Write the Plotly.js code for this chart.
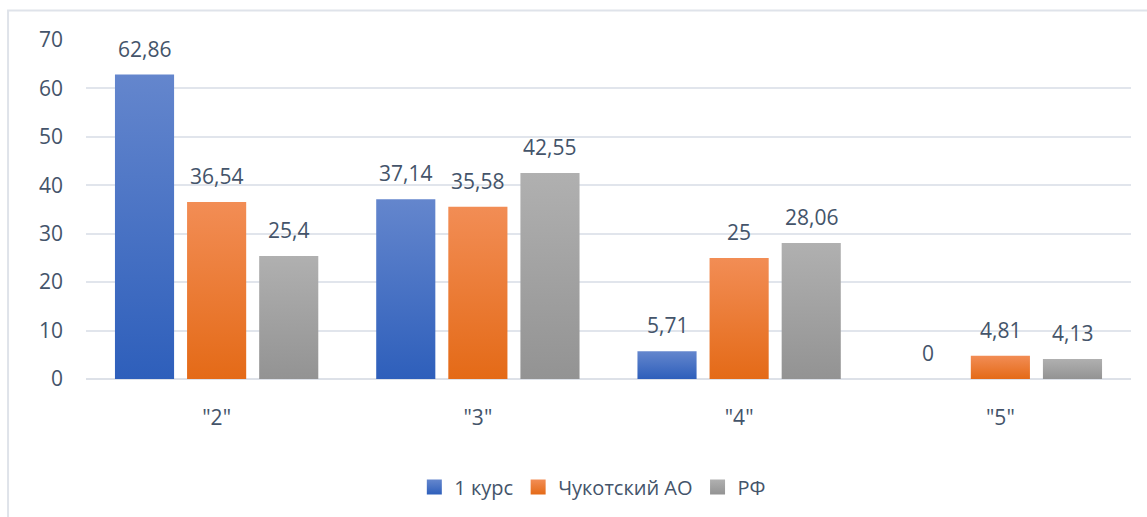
<!DOCTYPE html>
<html>
<head>
<meta charset="utf-8">
<script src="https://cdn.plot.ly/plotly-3.0.1.min.js"></script>
<style>
html,body{margin:0;padding:0;background:#fff;}
#chart{width:1147px;height:517px;}
</style>
</head>
<body>
<div id="chart"></div>
<script>
var categories = ['"2"', '"3"', '"4"', '"5"'];
var seriesNames = ['1 курс', 'Чукотский АО', 'РФ'];
var kurs1 = [62.86, 37.14, 5.71, 0];
var chukotka = [36.54, 35.58, 25, 4.81];
var rf = [25.4, 42.55, 28.06, 4.13];
var yTicks = [0, 10, 20, 30, 40, 50, 60, 70];

var seriesValues = [kurs1, chukotka, rf];
var colors = ['#4472c4', '#f07b2c', '#a5a5a5'];
var gradTop = ['#6486cd', '#f28d55', '#b0b0b0'];
var gradBottom = ['#2e5fbb', '#e46a17', '#939393'];
var textColor = '#44546a';
var font = 'Open Sans, Noto Sans, sans-serif';

function fmt(v) { return String(v).replace('.', ','); }

var traces = seriesValues.map(function (vals, i) {
  return {
    type: 'bar',
    name: seriesNames[i],
    x: categories,
    y: vals,
    marker: { color: colors[i], line: { width: 0 } },
    hoverinfo: 'none'
  };
});

var slotPx = 72;
var annotations = [];
seriesValues.forEach(function (vals, i) {
  vals.forEach(function (v, j) {
    annotations.push({
      x: categories[j], y: v, xref: 'x', yref: 'y',
      text: fmt(v), showarrow: false,
      xshift: (i - 1) * slotPx, yshift: 10,
      yanchor: 'bottom', xanchor: 'center',
      font: { family: font, size: 21, color: textColor }
    });
  });
});

var layout = {
  width: 1147, height: 517,
  margin: { l: 86, r: 16, t: 40, b: 137 },
  paper_bgcolor: '#ffffff', plot_bgcolor: '#ffffff',
  barmode: 'group', bargap: 0.172, bargroupgap: 0.18,
  showlegend: true,
  legend: {
    orientation: 'h', x: 0.485, xanchor: 'center', y: -0.315, yanchor: 'middle',
    font: { family: font, size: 20, color: textColor },
    itemwidth: 30, traceorder: 'normal'
  },
  xaxis: {
    type: 'category', tickfont: { family: font, size: 21, color: textColor },
    showgrid: false, zeroline: false, showline: false, ticks: '',
    ticklabelstandoff: 24
  },
  yaxis: {
    range: [0, 70], tickvals: yTicks, ticktext: yTicks.map(String),
    tickfont: { family: font, size: 21, color: textColor },
    showgrid: true, gridcolor: '#e1e5ec', gridwidth: 2,
    zeroline: true, zerolinecolor: '#dde1e8', zerolinewidth: 2,
    showline: false, ticks: '', ticklabelstandoff: 22
  },
  annotations: annotations,
  shapes: [{
    type: 'rect', xref: 'paper', yref: 'paper',
    x0: -0.0746, x1: 1.2, y0: -0.6, y1: 1.087,
    line: { color: '#dfe3ea', width: 2 }, fillcolor: 'rgba(0,0,0,0)', layer: 'below'
  }]
};

Plotly.newPlot('chart', traces, layout, { displayModeBar: false, staticPlot: true }).then(function (gd) {
  var svg = gd.querySelector('svg.main-svg');
  var ns = 'http://www.w3.org/2000/svg';
  var defs = document.createElementNS(ns, 'defs');
  colors.forEach(function (c, i) {
    var lg = document.createElementNS(ns, 'linearGradient');
    lg.setAttribute('id', 'barGrad' + i);
    lg.setAttribute('x1', '0'); lg.setAttribute('y1', '0');
    lg.setAttribute('x2', '0'); lg.setAttribute('y2', '1');
    [[0, gradTop[i]], [1, gradBottom[i]]].forEach(function (s) {
      var st = document.createElementNS(ns, 'stop');
      st.setAttribute('offset', s[0]);
      st.setAttribute('stop-color', s[1]);
      lg.appendChild(st);
    });
    defs.appendChild(lg);
  });
  svg.insertBefore(defs, svg.firstChild);
  var traceGroups = gd.querySelectorAll('.barlayer .trace');
  traceGroups.forEach(function (g, i) {
    g.querySelectorAll('path').forEach(function (p) {
      p.style.fill = 'url(#barGrad' + i + ')';
    });
  });
  var legendPts = gd.querySelectorAll('.legend .traces');
  legendPts.forEach(function (t, i) {
    t.querySelectorAll('.legendpoints path').forEach(function (p) {
      p.style.fill = 'url(#barGrad' + i + ')';
      p.setAttribute('d', 'M7.5,7.5H-7.5V-7.5H7.5Z');
    });
  });
});
</script>
</body>
</html>
